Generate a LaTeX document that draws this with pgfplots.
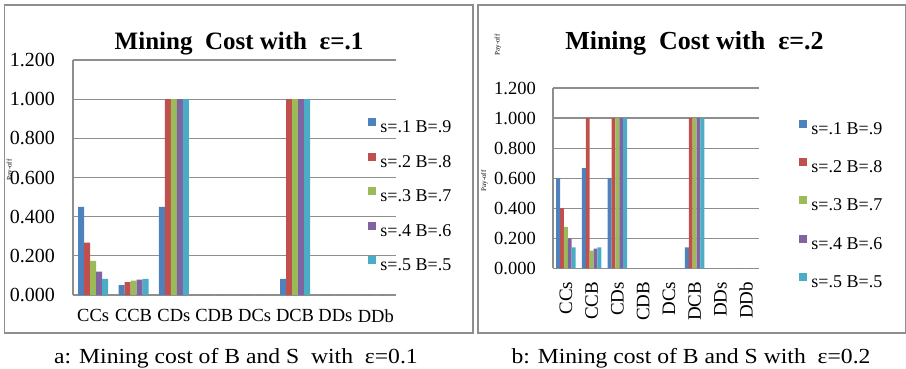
\documentclass[border=0pt]{standalone}
\usepackage{fontspec}
\setmainfont{Liberation Serif}
\usepackage{graphicx}
\usepackage{pgfplots}
\pgfplotsset{compat=1.18}
\definecolor{c1}{HTML}{4F81BD}
\definecolor{c2}{HTML}{C0504D}
\definecolor{c3}{HTML}{9BBB59}
\definecolor{c4}{HTML}{8064A2}
\definecolor{c5}{HTML}{4BACC6}
\definecolor{gridc}{HTML}{8E8E8E}
\definecolor{framec}{HTML}{8E8E8E}
\pgfplotsset{
  sq/.style={legend image code/.code={\fill[##1] (0pt,2.5pt) rectangle (8.5pt,10.5pt);}},
  mybars/.style={
    ybar=0pt, scale only axis,
    axis x line=bottom, axis y line=left,
    axis line style={-, gridc, line width=1.2pt},
    ymin=0, ymax=1.2, ytick={0,0.2,0.4,0.6,0.8,1.0,1.2},
    xmin=-0.5, xmax=7.5, xtick={0,1,2,3,4,5,6,7},
    xticklabels={CCs,CCB,CDs,CDB,DCs,DCB,DDs,DDb},
    ymajorgrids, major grid style={gridc, line width=1.2pt},
    major tick length=0pt,
    yticklabel style={/pgf/number format/fixed, /pgf/number format/fixed zerofill, /pgf/number format/precision=3, /pgf/number format/assume math mode=true},
    legend cell align=left,
  },
}
\begin{document}
\begin{tikzpicture}[x=1pt,y=1pt]
\path[use as bounding box] (0,0) rectangle (906,368);
% frames
\draw[framec, line width=1.3pt] (4.5,363) rectangle (473,35);
\draw[framec, line width=1.3pt] (478,363) rectangle (905.3,35);

% ---------- left chart ----------
\begin{axis}[mybars, at={(73pt,73pt)}, anchor=south west,
  width=323pt, height=235pt, bar width=6pt,
  yticklabel style={font=\fontsize{20}{20}\selectfont, inner sep=0pt, anchor=east, /tikz/xshift=-18pt},
  xticklabel style={font=\fontsize{18.5}{18.5}\selectfont, inner sep=0pt, anchor=north, yshift=-14.5pt},
  legend style={at={(axis description cs:0.9133,0.753)}, anchor=north west, draw=none, fill=none,
    inner sep=0pt, outer sep=0pt, row sep=16pt,
    nodes={inner sep=0pt, text height=12pt, text depth=4pt},
    font=\fontsize{18}{18}\selectfont,
    /tikz/every odd column/.append style={column sep=4pt}},
]
\addplot[fill=c1, draw=none, sq] coordinates {(0,0.45) (1,0.05) (2,0.45) (3,0) (4,0) (5,0.082) (6,0) (7,0)};
\addplot[fill=c2, draw=none, sq] coordinates {(0,0.267) (1,0.066) (2,1) (3,0) (4,0) (5,1) (6,0) (7,0)};
\addplot[fill=c3, draw=none, sq] coordinates {(0,0.174) (1,0.073) (2,1) (3,0) (4,0) (5,1) (6,0) (7,0)};
\addplot[fill=c4, draw=none, sq] coordinates {(0,0.119) (1,0.078) (2,1) (3,0) (4,0) (5,1) (6,0) (7,0)};
\addplot[fill=c5, draw=none, sq] coordinates {(0,0.082) (1,0.082) (2,1) (3,0) (4,0) (5,1) (6,0) (7,0)};
\legend{s=.1 B=.9, s=.2 B=.8, s=.3 B=.7, s=.4 B=.6, s=.5 B=.5}
\end{axis}

% ---------- right chart ----------
\begin{axis}[mybars, at={(553pt,99.7pt)}, anchor=south west,
  width=206pt, height=180.3pt, bar width=3.9pt,
  yticklabel style={font=\fontsize{18.5}{18.5}\selectfont, inner sep=0pt, anchor=east, /tikz/xshift=-17pt},
  xticklabel style={font=\fontsize{19}{19}\selectfont, inner sep=0pt, yshift=-13.4pt, rotate=90, anchor=east},
  legend style={at={(axis description cs:1.194,0.824)}, anchor=north west, draw=none, fill=none,
    inner sep=0pt, outer sep=0pt, row sep=19.8pt,
    nodes={inner sep=0pt, text height=12pt, text depth=4pt},
    font=\fontsize{18}{18}\selectfont,
    /tikz/every odd column/.append style={column sep=4pt}},
]
\addplot[fill=c1, draw=none, sq] coordinates {(0,0.6) (1,0.667) (2,0.6) (3,0) (4,0) (5,0.14) (6,0) (7,0)};
\addplot[fill=c2, draw=none, sq] coordinates {(0,0.4) (1,1) (2,1) (3,0) (4,0) (5,1) (6,0) (7,0)};
\addplot[fill=c3, draw=none, sq] coordinates {(0,0.275) (1,0.117) (2,1) (3,0) (4,0) (5,1) (6,0) (7,0)};
\addplot[fill=c4, draw=none, sq] coordinates {(0,0.2) (1,0.131) (2,1) (3,0) (4,0) (5,1) (6,0) (7,0)};
\addplot[fill=c5, draw=none, sq] coordinates {(0,0.14) (1,0.14) (2,1) (3,0) (4,0) (5,1) (6,0) (7,0)};
\legend{s=.1 B=.9, s=.2 B=.8, s=.3 B=.7, s=.4 B=.6, s=.5 B=.5}
\end{axis}

% titles
\node[anchor=base, font=\fontsize{25}{30}\selectfont\bfseries] at (239,318.7) {Mining\ \ Cost with\ \ ε=.1};
\node[anchor=base, font=\fontsize{26}{30}\selectfont\bfseries] at (694.5,318.7) {Mining\ \ Cost with\ \ ε=.2};
% small axis labels
\node[rotate=90, font=\fontsize{7}{8}\selectfont] at (10,198) {Pay-off};
\node[rotate=90, font=\fontsize{7}{8}\selectfont] at (498,323) {Pay-off};
\node[rotate=90, font=\fontsize{7}{8}\selectfont] at (484.5,187) {Pay-off};
% captions
\node[anchor=base] at (236,4.5) {\scalebox{1.1}[1]{\fontsize{21.5}{24}\selectfont a: Mining cost of B and S\ \ with\ \ ε=0.1}};
\node[anchor=base] at (691,4.5) {\scalebox{1.1}[1]{\fontsize{21.5}{24}\selectfont b: Mining cost of B and S with\ \ ε=0.2}};
\end{tikzpicture}
\end{document}
